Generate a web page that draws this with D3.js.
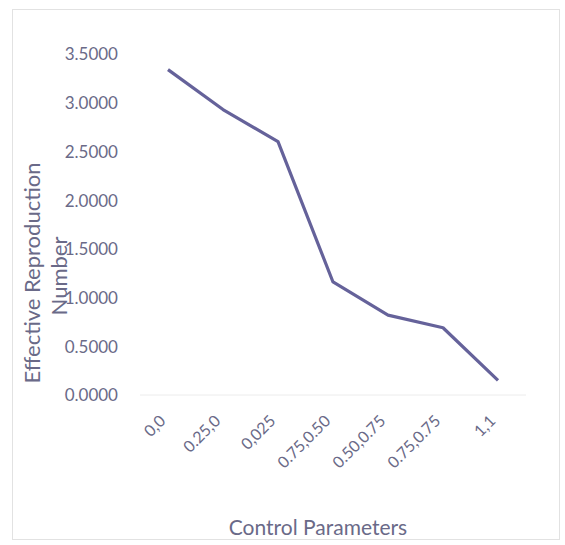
<!DOCTYPE html>
<html>
<head>
<meta charset="utf-8">
<script src="https://cdn.jsdelivr.net/npm/d3@7"></script>
<style>
  body { margin: 0; background: #fff; }
  svg text { font-family: Lato, "Open Sans", sans-serif; fill: #6a6a88; }
</style>
</head>
<body>
<svg id="chart" width="565" height="545"></svg>
<script>
// Control parameter combinations and the resulting effective reproduction number
const categories = ["0,0", "0.25,0", "0,025", "0.75,0.50", "0.50,0.75", "0.75,0.75", "1,1"];
const values = [3.34, 2.93, 2.60, 1.16, 0.82, 0.69, 0.15];
const yTicks = [0, 0.5, 1.0, 1.5, 2.0, 2.5, 3.0, 3.5];

const svg = d3.select("#chart");

// outer frame
svg.append("rect")
  .attr("x", 12.5).attr("y", 9.5)
  .attr("width", 547).attr("height", 530)
  .attr("fill", "none").attr("stroke", "#e2e2e2").attr("stroke-width", 1);

const x = d3.scalePoint().domain(categories).range([168, 498]);
const y = d3.scaleLinear().domain([0, 3.5]).range([395, 54]);

// y axis labels (no line, no ticks)
const yAxis = d3.axisLeft(y).tickValues(yTicks).tickFormat(d3.format(".4f")).tickSize(0).tickPadding(0);
const gy = svg.append("g").attr("transform", "translate(118,0)").call(yAxis);
gy.select(".domain").remove();
gy.selectAll("text").attr("font-size", 17).style("fill", "#6a6a88").attr("dy", "0.35em");

// x axis baseline
svg.append("line")
  .attr("x1", 140).attr("x2", 526)
  .attr("y1", y(0)).attr("y2", y(0))
  .attr("stroke", "#ececec").attr("stroke-width", 1);

// x axis labels, rotated
const xAxis = d3.axisBottom(x).tickSize(0).tickPadding(0);
const gx = svg.append("g").attr("transform", `translate(0,${y(0)})`).call(xAxis);
gx.select(".domain").remove();
gx.selectAll("text")
  .attr("font-size", 16)
  .style("fill", "#6a6a88")
  .attr("text-anchor", "end")
  .attr("dy", null)
  .attr("transform", "translate(-2,27) rotate(-45)");

// data line
const line = d3.line()
  .x((d, i) => x(categories[i]))
  .y(d => y(d));
svg.append("path")
  .datum(values)
  .attr("d", line)
  .attr("fill", "none")
  .attr("stroke", "#65629a")
  .attr("stroke-width", 3.2)
  .attr("stroke-linejoin", "round");

// axis titles
svg.append("text")
  .attr("transform", "translate(40,273) rotate(-90)")
  .attr("text-anchor", "middle")
  .attr("font-size", 22)
  .text("Effective Reproduction");
svg.append("text")
  .attr("transform", "translate(67,276) rotate(-90)")
  .attr("text-anchor", "middle")
  .attr("font-size", 22)
  .text("Number");
svg.append("text")
  .attr("x", 318).attr("y", 535)
  .attr("text-anchor", "middle")
  .attr("font-size", 21)
  .text("Control Parameters");
</script>
</body>
</html>
